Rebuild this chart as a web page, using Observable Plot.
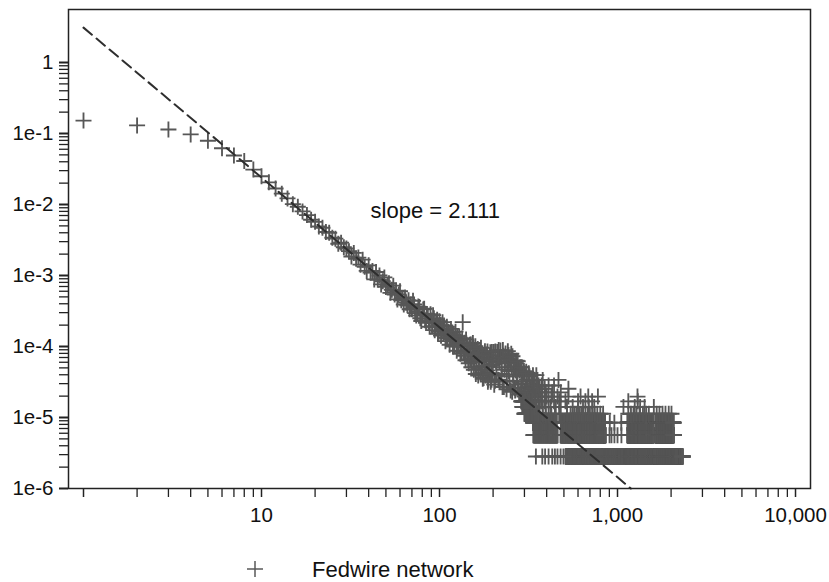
<!DOCTYPE html>
<html><head><meta charset="utf-8">
<script src="https://cdn.jsdelivr.net/npm/d3@7"></script>
<script src="https://cdn.jsdelivr.net/npm/@observablehq/plot@0.6"></script>
<style>
body{margin:0;background:#fff;font-family:"Liberation Sans",Arial,sans-serif;}
#legend text{font-family:"Liberation Sans",Arial,sans-serif;}
</style></head><body>
<div id="chart"></div>
<div id="legend"></div>
<script>
// ---- Data: degree k, fraction of nodes p ----
const degreePoints = [
  [1,0.152],[2,0.13],[3,0.114],[4,0.097],[5,0.079],[6,0.062],[7,0.049],[8,0.041],[9,0.031],[10,0.025],
  [11,0.0205],[12,0.0168],[13,0.0142],[14,0.0122],[15,0.0101],[16,0.0093],[17,0.0080],[18,0.0071],[19,0.0061],[20,0.0057],
  [21,0.0049],[22,0.0047],[23,0.0041],[24,0.0040],[25,0.0034],[26,0.0033],[27,0.0028],[28,0.0029],[29,0.0025],[30,0.0024],
  [31,2.2e-3],[32,1.85e-3],[33,2.08e-3],[34,1.72e-3],[35,1.79e-3],[36,1.42e-3],[37,1.67e-3],[38,1.33e-3],[39,1.16e-3],[40,1.39e-3],
  [41,1.10e-3],[42,1.16e-3],[43,8.8e-4],[44,1.12e-3],[45,8.7e-4],[46,1.0e-3],[47,7.5e-4],[48,8.3e-4],[49,9.4e-4],[50,6.9e-4],
  [51,7.3e-4],[52,7.8e-4],[53,5.7e-4],[54,6.3e-4],[55,7.2e-4],[56,5.4e-4],[57,6.1e-4],[58,4.6e-4],[59,5.4e-4],[60,6.0e-4],
  [61,4.5e-4],[62,4.8e-4],[63,3.9e-4],[64,4.9e-4],[65,4.15e-4],[66,3.8e-4],[67,4.5e-4],[68,3.35e-4],[69,3.9e-4],[70,3.35e-4],
  [72,3.9e-4],[73,2.95e-4],[75,3.07e-4],[76,3.65e-4],[78,2.5e-4],[80,2.83e-4],[81,3.33e-4],[83,2.34e-4],[85,2.88e-4],[87,2.24e-4],
  [89,2.85e-4],[91,1.93e-4],[93,2.5e-4],[95,1.86e-4],[97,2.38e-4],[99,1.61e-4],[101,2.0e-4],[103,1.66e-4],[106,1.97e-4],[109,1.32e-4],
  [112,1.61e-4],[115,1.31e-4],[118,1.57e-4],[121,1.05e-4],[124,1.30e-4],[127,1.01e-4],[130,1.23e-4],[133,8.4e-5],[135,2.2e-4],[136,1.02e-4],
  [139,7.4e-5],[142,1.06e-4],[145,6.4e-5],[148,1.06e-4],[151,5.1e-5],[154,1.12e-4],[157,6.1e-5],[160,4.1e-5],[163,7.9e-5],[166,4.8e-5],
  [169,8.6e-5],[172,5.3e-5],[175,3.5e-5],[178,6.9e-5],[181,4.2e-5],[184,7.7e-5],[187,3.2e-5],[190,5.3e-5],[193,8.3e-5],[196,3.4e-5],
  [199,5.6e-5],[202,8.4e-5],[205,3.3e-5],[208,5.9e-5],[211,8.4e-5],[214,3.4e-5],[217,6.2e-5],[220,8.8e-5],[223,4.1e-5],[226,2.7e-5],
  [229,7.4e-5],[232,4.7e-5],[235,8.0e-5],[238,2.5e-5],[241,5.8e-5],[244,7.6e-5],[247,3.3e-5],[250,5.9e-5],[253,7.9e-5],[256,2.3e-5],
  [259,4.0e-5],[262,6.3e-5],[265,2.6e-5],[268,4.6e-5],[271,6.3e-5],[274,2.9e-5],[277,4.8e-5],[280,2.1e-5],[284,5.1e-5],[288,3.0e-5],
  [292,3.9e-5],[296,2.1e-5],[300,4.2e-5],[305,2.6e-5],[310,3.4e-5],[315,2.0e-5],[320,3.8e-5],[325,2.5e-5],[330,3.0e-5],
  // remaining degrees of the dense cloud (k 71-330)
  [71,4.4e-4],[74,2.73e-4],[77,3.6e-4],[79,2.29e-4],[82,3.4e-4],[84,2.15e-4],[86,2.7e-4],[88,1.9e-4],[90,2.32e-4],[92,2.76e-4],
  [94,1.7e-4],[96,2.12e-4],[98,1.51e-4],[100,2.27e-4],[102,1.42e-4],[104,2.2e-4],[105,1.5e-4],[107,1.7e-4],[108,1.19e-4],[110,1.9e-4],
  [111,1.34e-4],[113,1.58e-4],[114,1.06e-4],[116,1.77e-4],[117,1.27e-4],[119,1.0e-4],[120,1.45e-4],[122,1.22e-4],[123,1.62e-4],[125,8.7e-5],
  [126,1.37e-4],[128,1.05e-4],[129,1.4e-4],[131,7.9e-5],[132,1.13e-4],[134,1.3e-4],[137,8.1e-5],[138,1.13e-4],[140,6.4e-5],[141,1.26e-4],
  [143,8.3e-5],[144,1.03e-4],[146,5.8e-5],[147,9.1e-5],[149,6.8e-5],[150,1.07e-4],[152,6.1e-5],[153,7.6e-5],[155,9.6e-5],[156,4.7e-5],
  [158,7.4e-5],[159,1.01e-4],[161,5.1e-5],[162,7.4e-5],[164,9.2e-5],[165,3.9e-5],[167,6.0e-5],[168,8.1e-5],[170,4.2e-5],[171,9.6e-5],
  [173,6.4e-5],[174,4.6e-5],[176,7.6e-5],[177,3.6e-5],[179,5.4e-5],[180,8.6e-5],[182,3.9e-5],[183,6.2e-5],[185,4.6e-5],[186,8.5e-5],
  [188,3.4e-5],[189,6.3e-5],[191,4.0e-5],[192,7.5e-5],[194,3.2e-5],[195,5.4e-5],[197,8.4e-5],[198,4.2e-5],[200,6.4e-5],[203,2.9e-5],
  [206,8.5e-5],[209,3.9e-5],[212,6.8e-5],[215,8.9e-5],[218,3.2e-5],[221,7.0e-5],[224,5.1e-5],[227,8.9e-5],[230,2.7e-5],[233,5.9e-5],
  [236,6.7e-5],[239,3.8e-5],[242,8.6e-5],[245,4.5e-5],[248,6.6e-5],[251,2.4e-5],[254,5.2e-5],[257,7.3e-5],[260,3.2e-5],[263,5.3e-5],
  [266,2.4e-5],[269,5.8e-5],[272,3.8e-5],[275,6.2e-5],[278,2.6e-5],[282,4.6e-5],[286,2.2e-5],[290,5.1e-5],[294,3.2e-5],[298,4.5e-5],
  [302,2.3e-5],[307,4.4e-5],[312,2.7e-5],[317,4.2e-5],[322,2.2e-5],[328,3.3e-5]
];
// high degrees: fractions are multiples of the smallest count (horizontal rows)
const rowLevels = [2.82e-6, 5.64e-6, 8.46e-6, 1.13e-5, 1.41e-5, 1.69e-5, 1.97e-5, 2.26e-5, 2.54e-5, 2.82e-5, 3.38e-5, 3.95e-5];
// runs of consecutive degrees present at each level
const rowRuns = [
  [[511, 2317]],
  [[337, 460], [479, 857], [1138, 1593], [1635, 2064]],
  [[335, 455], [482, 850], [1140, 1590], [1640, 2060]],
  [[300, 360]],
  [[292, 340]],
  [[288, 330]],
  [], [], [], [], [], []
];
// isolated degrees at each level
const rowSingles = [
  [348, 378, 392, 410, 430, 445, 460, 479, 497],
  [902, 925, 961, 1000, 1052],
  [905, 960, 1050],
  [380, 395, 410, 425, 445, 470, 520, 545, 560, 575, 590, 610, 625, 640, 660, 680, 700, 720, 745, 770, 800, 830, 1150, 1190, 1230, 1280, 1330, 1390, 1450, 1500, 1660, 1720, 1790, 1860, 1940, 2010],
  [352, 365, 380, 395, 420, 450, 480, 520, 560, 600, 640, 690, 740, 1080, 1250, 1340, 1420, 1600],
  [345, 360, 372, 390, 410, 440, 470, 510, 600, 660, 720, 1150, 1300],
  [300, 312, 335, 348, 362, 378, 400, 425, 460, 530, 620, 685, 776, 1295],
  [305, 320, 332, 342, 356, 372, 395, 430, 480],
  [338, 350, 365, 390, 530],
  [335, 350, 360, 375, 410, 440],
  [340, 355, 380, 466],
  [335, 350]
];
// fitted power law (dashed line) endpoints
const fitLine = [{k: 1, p: 3.1}, {k: 1188, p: 1.0e-6}];
const annotations = [{k: 41, p: 0.0082, text: "slope = 2.111"}];
const seriesName = "Fedwire network";

// tick values / labels
const xMajor = [1, 10, 100, 1000, 10000];
const xLabels = ["", "10", "100", "1,000", "10,000"];
const yMajor = [1, 1e-1, 1e-2, 1e-3, 1e-4, 1e-5, 1e-6];
const yLabels = ["1", "1e-1", "1e-2", "1e-3", "1e-4", "1e-5", "1e-6"];

// ---- build table ----
const points = degreePoints.map(([k, p]) => ({k, p}));
rowLevels.forEach((p, i) => {
  for (const [a, b] of rowRuns[i]) for (let k = a; k <= b; k++) points.push({k, p});
  for (const k of rowSingles[i]) points.push({k, p});
});

const xMinor = [];
for (let e = 0; e <= 3; e++) for (let m = 2; m <= 9; m++) xMinor.push(m * Math.pow(10, e));
const yMinor = [];
for (let e = -6; e <= -1; e++) for (let m = 2; m <= 9; m++) yMinor.push(m * Math.pow(10, e));
const xLab = new Map(xMajor.map((v, i) => [v, xLabels[i]]));
const yLab = new Map(yMajor.map((v, i) => [v, yLabels[i]]));

const plusSymbol = {draw(ctx) { const a = 8; ctx.moveTo(-a, 0); ctx.lineTo(a, 0); ctx.moveTo(0, -a); ctx.lineTo(0, a); }};

const chart = Plot.plot({
  width: 829, height: 535,
  marginLeft: 68, marginRight: 19, marginTop: 9, marginBottom: 47,
  style: {fontSize: "20.5px", fontFamily: "'Liberation Sans', Arial, sans-serif", color: "#111", background: "#fff"},
  x: {type: "log", domain: [0.8236, 12140]},
  y: {type: "log", domain: [1e-6, 5.58]},
  marks: [
    Plot.dot(points, {x: "k", y: "p", symbol: plusSymbol, r: 8, stroke: "#575757", strokeWidth: 1.85, fill: "none"}),
    Plot.line(fitLine, {x: "k", y: "p", stroke: "#2e2e2e", strokeWidth: 2, strokeDasharray: "11,6"}),
    Plot.text(annotations, {x: "k", y: "p", text: "text", textAnchor: "start", fontSize: 22, fill: "#111"}),
    Plot.frame({stroke: "#222", strokeWidth: 1.5}),
    Plot.axisX({ticks: xMinor, tickSize: 9, tickFormat: () => "", label: null, stroke: "#222", strokeWidth: 1.3}),
    Plot.axisX({ticks: xMajor, tickSize: 9, tickPadding: 10, tickFormat: d => xLab.get(d), label: null, stroke: "#222", strokeWidth: 1.5}),
    Plot.axisY({ticks: yMinor, tickSize: 9, tickFormat: () => "", label: null, stroke: "#222", strokeWidth: 1.3}),
    Plot.axisY({ticks: yMajor, tickSize: 9, tickPadding: 6, tickFormat: d => yLab.get(d), label: null, stroke: "#222", strokeWidth: 2})
  ]
});
document.getElementById("chart").appendChild(chart);

// legend below the chart
const lg = d3.select("#legend").append("svg").attr("width", 829).attr("height", 47);
lg.append("path").attr("d", "M247,34H263M255,26V42").attr("stroke", "#595959").attr("stroke-width", 1.5).attr("fill", "none");
lg.append("text").attr("x", 312).attr("y", 42).attr("font-size", 22).attr("fill", "#111").text(seriesName);
</script>
</body></html>
